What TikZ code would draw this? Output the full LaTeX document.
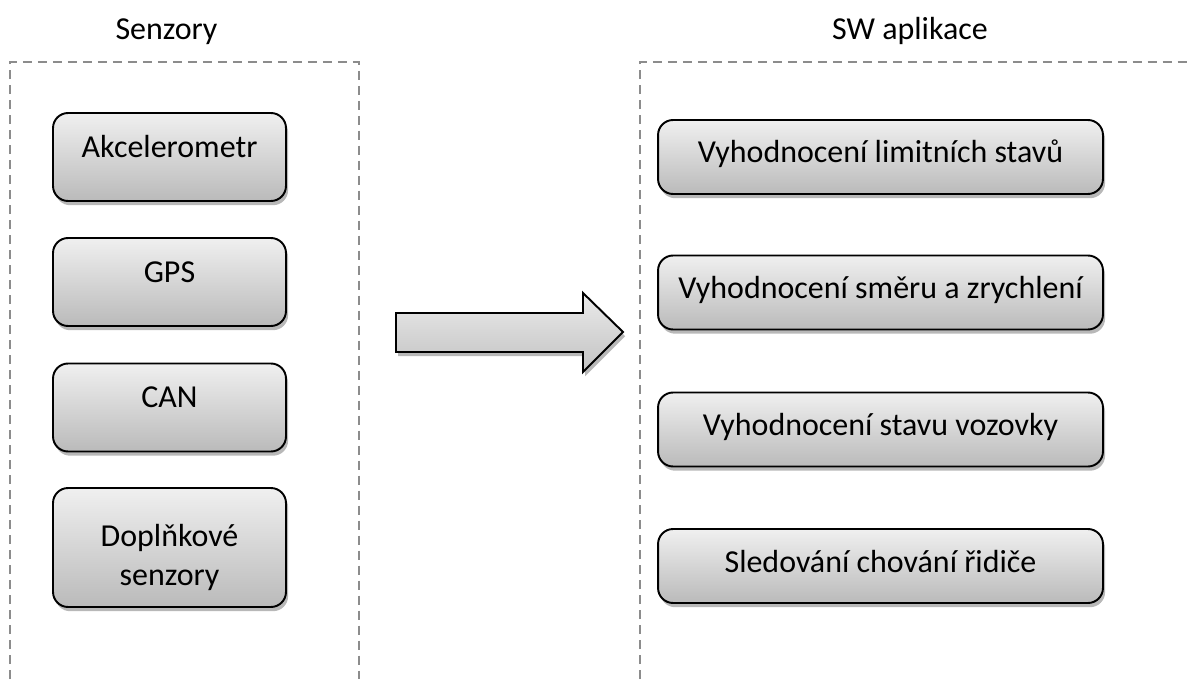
\documentclass[tikz,border=0pt]{standalone}
\usepackage{fontspec}
\setmainfont{Carlito}
\usepackage{tikz}
\usetikzlibrary{shadows}
\usepackage{xcolor}

\begin{document}
\begin{tikzpicture}[x=0.02cm, y=-0.02cm,
    font=\fontsize{18.2}{22.1}\selectfont,
    frame/.style={draw=black!45, line width=1.1pt, dash pattern=on 0.18cm off 0.12cm},
    btn/.style={draw=black, line width=1.1pt, rounded corners=0.3cm,
      top color=black!6, bottom color=black!27, align=center,
      drop shadow={shadow xshift=1.2pt, shadow yshift=-2.4pt, opacity=0.28, fill=black}},
    sensorbtn/.style={btn, minimum width=4.66cm, minimum height=1.76cm, text height=0.3cm, text depth=0.3cm},
    appbtn/.style={btn, minimum width=8.9cm, minimum height=1.48cm, text height=0.45cm, text depth=0.21cm}]
  \useasboundingbox (0,0) rectangle (1192,679);

  % Dashed frames (open at the bottom)
  \coordinate (S_BL) at (10,679);
  \coordinate (S_TL) at (10,62);
  \coordinate (S_TR) at (359,62);
  \coordinate (S_BR) at (359,679);
  \draw[frame] (S_BL) -- (S_TL) -- (S_TR) -- (S_BR);
  \coordinate (A_BL) at (640,679);
  \coordinate (A_TL) at (640,62);
  \coordinate (A_TR) at (1192,62);
  \draw[frame] (A_BL) -- (A_TL) -- (A_TR);

  % Titles
  \node[anchor=base] (senzory) at (166.5,40) {Senzory};
  \node[anchor=base] (aplikace) at (910,40) {SW aplikace};

  % Sensors
  \node[sensorbtn] (akcel) at (169.5,157) {Akcelerometr};
  \node[sensorbtn] (gps) at (169.5,282) {GPS};
  \node[sensorbtn] (can) at (169.5,407.5) {CAN};
  \node[sensorbtn, minimum height=2.38cm, text height=1.8cm, text depth=0.3cm] (doplnk) at (169.5,547.5) {Doplňkové\\senzory};

  % Big arrow
  \draw[line width=1.1pt, top color=black!8, bottom color=black!24,
      drop shadow={shadow xshift=1.2pt, shadow yshift=-2.4pt, opacity=0.28, fill=black}]
    (396,313) -- (583,313) -- (583,293) -- (623,332) -- (583,372) -- (583,352) -- (396,352) -- cycle;

  % Applications
  \node[appbtn] (limit) at (880.5,157) {Vyhodnocení limitních stavů};
  \node[appbtn] (smer) at (880.5,292.5) {Vyhodnocení směru a zrychlení};
  \node[appbtn] (vozovka) at (880.5,429.5) {Vyhodnocení stavu vozovky};
  \node[appbtn] (ridic) at (880.5,566) {Sledování chování řidiče};
\end{tikzpicture}
\end{document}
